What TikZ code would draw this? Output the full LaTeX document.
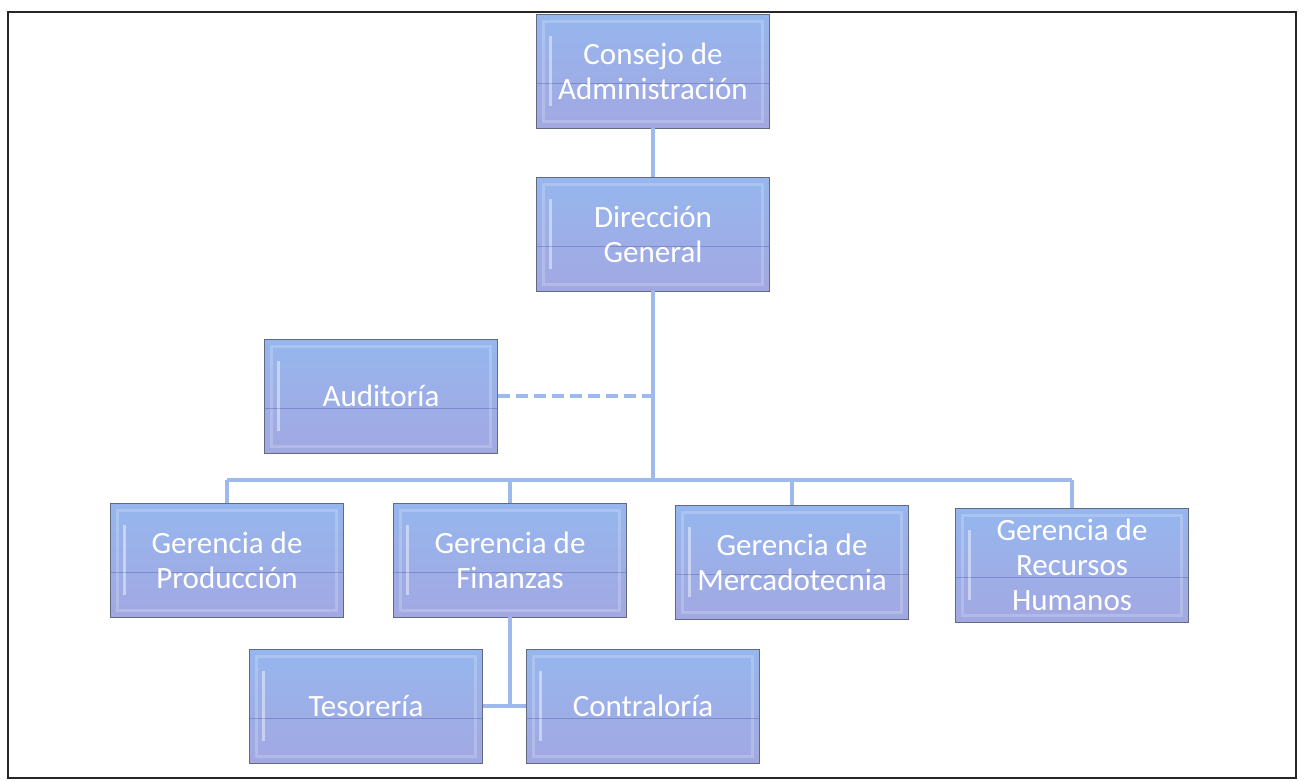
\documentclass[tikz,border=0pt]{standalone}
\usepackage{fontspec}
\newfontfamily\boxfont{Carlito}
\definecolor{boxtop}{RGB}{150,182,238}
\definecolor{boxbot}{RGB}{162,168,226}
\definecolor{boxedge}{RGB}{100,105,130}
\definecolor{connc}{RGB}{158,186,236}
\tikzset{
  orgbox/.style={rectangle, minimum width=233, minimum height=114, inner sep=2,
    draw=boxedge, line width=0.9, top color=boxtop, bottom color=boxbot,
    text=white, align=center, font=\boxfont\fontsize{31}{35}\selectfont,
    path picture={
      \draw[white, opacity=0.2, line width=3]
        ([xshift=7,yshift=-7]path picture bounding box.north west) rectangle
        ([xshift=-7,yshift=7]path picture bounding box.south east);
      \draw[white, opacity=0.45, line width=2.5]
        ([xshift=14,yshift=-22]path picture bounding box.north west) --
        ([xshift=14,yshift=22]path picture bounding box.south west);
      \draw[blue!40!black, opacity=0.2, line width=0.8]
        ([yshift=-12]path picture bounding box.west) -- ([yshift=-12]path picture bounding box.east);
    }},
  conn/.style={draw=connc, line width=3.5},
  dashconn/.style={conn, dash pattern=on 12 off 6}
}
\begin{document}
\begin{tikzpicture}[x=1pt,y=-1pt]
\useasboundingbox (0,0) rectangle (1305,780);
\fill[white] (0,0) rectangle (1305,780);
\draw[line width=2.5, black!85] (8,12) rectangle (1296,778);

\coordinate (bus) at (653,480);

\node[orgbox] (cons) at (653,71) {Consejo de\\Administración};
\node[orgbox] (dir) at (653,234) {Dirección\\General};
\node[orgbox] (aud) at (381,396) {Auditoría};
\node[orgbox] (prod) at (227,560) {Gerencia de\\Producción};
\node[orgbox] (fin) at (510,560) {Gerencia de\\Finanzas};
\node[orgbox] (merc) at (792,562) {Gerencia de\\Mercadotecnia};
\node[orgbox] (rh) at (1072,565) {Gerencia de\\Recursos\\Humanos};
\node[orgbox] (tes) at (366,706) {Tesorería};
\node[orgbox] (con) at (643,706) {Contraloría};

\draw[conn] (cons.south) -- (dir.north);
\draw[conn] (dir.south) -- (bus);
\draw[conn] (prod.north |- bus) -- (rh.north |- bus);
\foreach \n in {prod,fin,merc,rh} \draw[conn] (\n.north) -- (\n.north |- bus);
\draw[dashconn] (aud.east) -- (aud.east -| bus);
\draw[conn] (fin.south) -- (fin.south |- tes.east);
\draw[conn] (tes.east) -- (con.west);
\end{tikzpicture}
\end{document}
